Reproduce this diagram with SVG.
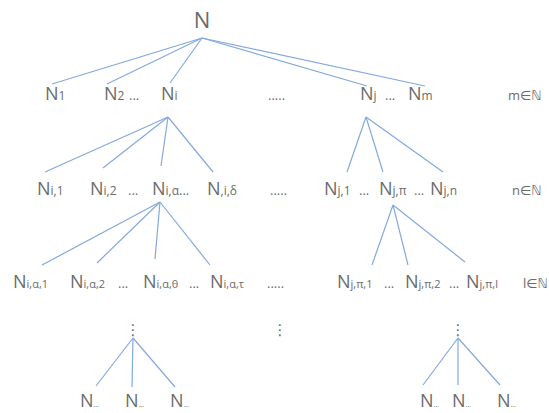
<svg xmlns="http://www.w3.org/2000/svg" width="549" height="413" viewBox="0 0 549 413">
<style>
text{font-family:"Open Sans","DejaVu Sans",sans-serif;fill:#6b6b6b}
.n{font-size:18px}
.r{font-size:22px}
.s{font-size:12px}
.s3{font-size:11px}
.d{font-size:13px}
.set{font-size:13px}
.vd{font-size:15px;font-family:"DejaVu Sans",sans-serif}
.t{font-size:7px}
#edges line{stroke:#84a9df;stroke-width:1.2;fill:none}
</style>
<rect width="549" height="413" fill="#ffffff"/>
<g id="edges">
<line x1="202" y1="38" x2="52" y2="84"/>
<line x1="202" y1="38" x2="107" y2="84"/>
<line x1="202" y1="38" x2="170" y2="83"/>
<line x1="202" y1="38" x2="367" y2="86"/>
<line x1="202" y1="38" x2="425" y2="86"/>
<line x1="168" y1="117" x2="45" y2="172"/>
<line x1="168" y1="117" x2="103" y2="168"/>
<line x1="168" y1="117" x2="161" y2="166"/>
<line x1="168" y1="117" x2="213" y2="172"/>
<line x1="366" y1="117" x2="347" y2="172"/>
<line x1="366" y1="117" x2="383" y2="172"/>
<line x1="366" y1="117" x2="443" y2="172"/>
<line x1="160" y1="202" x2="42" y2="265"/>
<line x1="160" y1="202" x2="97" y2="263"/>
<line x1="160" y1="202" x2="155" y2="259"/>
<line x1="160" y1="202" x2="210" y2="265"/>
<line x1="393" y1="205" x2="372" y2="265"/>
<line x1="393" y1="205" x2="408" y2="265"/>
<line x1="393" y1="205" x2="465" y2="262"/>
<line x1="133" y1="338" x2="96" y2="386"/>
<line x1="133" y1="338" x2="132" y2="387"/>
<line x1="133" y1="338" x2="175" y2="387"/>
<line x1="458" y1="338" x2="423" y2="385"/>
<line x1="458" y1="338" x2="458" y2="385"/>
<line x1="458" y1="338" x2="500" y2="385"/>
</g>
<g id="root"><text class="r" x="202" y="28" text-anchor="middle">N</text></g>
<g id="n1"><text class="n" x="45" y="100">N<tspan class="s">1</tspan></text></g>
<g id="n2"><text class="n" x="104" y="100">N<tspan class="s">2</tspan></text></g>
<g id="dots1a"><text class="d" x="129" y="100">...</text></g>
<g id="ni"><text class="n" x="161" y="100">N<tspan class="s">i</tspan></text></g>
<g id="dots1b"><text class="d" x="268" y="100">.....</text></g>
<g id="nj"><text class="n" x="360" y="100">N<tspan class="s">j</tspan></text></g>
<g id="dots1c"><text class="d" x="385" y="100">...</text></g>
<g id="nm"><text class="n" x="408" y="100">N<tspan class="s">m</tspan></text></g>
<g id="setm"><text class="set" x="508" y="100">m∈ℕ</text></g>

<g id="ni1"><text class="n" x="37" y="195">N<tspan class="s">i,1</tspan></text></g>
<g id="ni2"><text class="n" x="90" y="195">N<tspan class="s">i,2</tspan></text></g>
<g id="dots2a"><text class="d" x="128" y="195">...</text></g>
<g id="nia"><text class="n" x="152" y="195">N<tspan class="s">i,α</tspan></text></g>
<g id="dots2b"><text class="d" x="179" y="195">...</text></g>
<g id="nid"><text class="n" x="207" y="195">N<tspan class="s">,i,δ</tspan></text></g>
<g id="dots2c"><text class="d" x="270" y="195">.....</text></g>
<g id="nj1"><text class="n" x="324" y="195">N<tspan class="s">j,1</tspan></text></g>
<g id="dots2d"><text class="d" x="359" y="195">...</text></g>
<g id="njp"><text class="n" x="379" y="195">N<tspan class="s">j,π</tspan></text></g>
<g id="dots2e"><text class="d" x="414" y="195">...</text></g>
<g id="njn"><text class="n" x="430" y="195">N<tspan class="s">j,n</tspan></text></g>
<g id="setn"><text class="set" x="512" y="195">n∈ℕ</text></g>

<g id="nia1"><text class="n" x="13" y="288">N<tspan class="s3">i,α,1</tspan></text></g>
<g id="nia2"><text class="n" x="70" y="288">N<tspan class="s3">i,α,2</tspan></text></g>
<g id="dots3a"><text class="d" x="118" y="288">...</text></g>
<g id="niat"><text class="n" x="143" y="288">N<tspan class="s3">i,α,θ</tspan></text></g>
<g id="dots3b"><text class="d" x="189" y="288">...</text></g>
<g id="niatau"><text class="n" x="210" y="288">N<tspan class="s3">i,α,τ</tspan></text></g>
<g id="dots3c"><text class="d" x="267" y="288">.....</text></g>
<g id="njp1"><text class="n" x="337" y="288">N<tspan class="s3">j,π,1</tspan></text></g>
<g id="dots3d"><text class="d" x="384" y="288">...</text></g>
<g id="njp2"><text class="n" x="405" y="288">N<tspan class="s3">j,π,2</tspan></text></g>
<g id="dots3e"><text class="d" x="449" y="288">...</text></g>
<g id="njpl"><text class="n" x="466" y="288">N<tspan class="s3">j,π,l</tspan></text></g>
<g id="setl"><text class="set" x="523" y="288">l∈ℕ</text></g>

<g id="vd1"><text class="vd" x="133" y="335" text-anchor="middle">⋮</text></g>
<g id="vd2"><text class="vd" x="280" y="335" text-anchor="middle">⋮</text></g>
<g id="vd3"><text class="vd" x="458" y="335" text-anchor="middle">⋮</text></g>

<g id="leaf1"><text class="n" x="80" y="407">N<tspan class="t">…</tspan></text></g>
<g id="leaf2"><text class="n" x="125" y="407">N<tspan class="t">…</tspan></text></g>
<g id="leaf3"><text class="n" x="170" y="407">N<tspan class="t">…</tspan></text></g>
<g id="leaf4"><text class="n" x="420" y="407">N<tspan class="t">…</tspan></text></g>
<g id="leaf5"><text class="n" x="452" y="407">N<tspan class="t">…</tspan></text></g>
<g id="leaf6"><text class="n" x="497" y="407">N<tspan class="t">…</tspan></text></g>
</svg>
